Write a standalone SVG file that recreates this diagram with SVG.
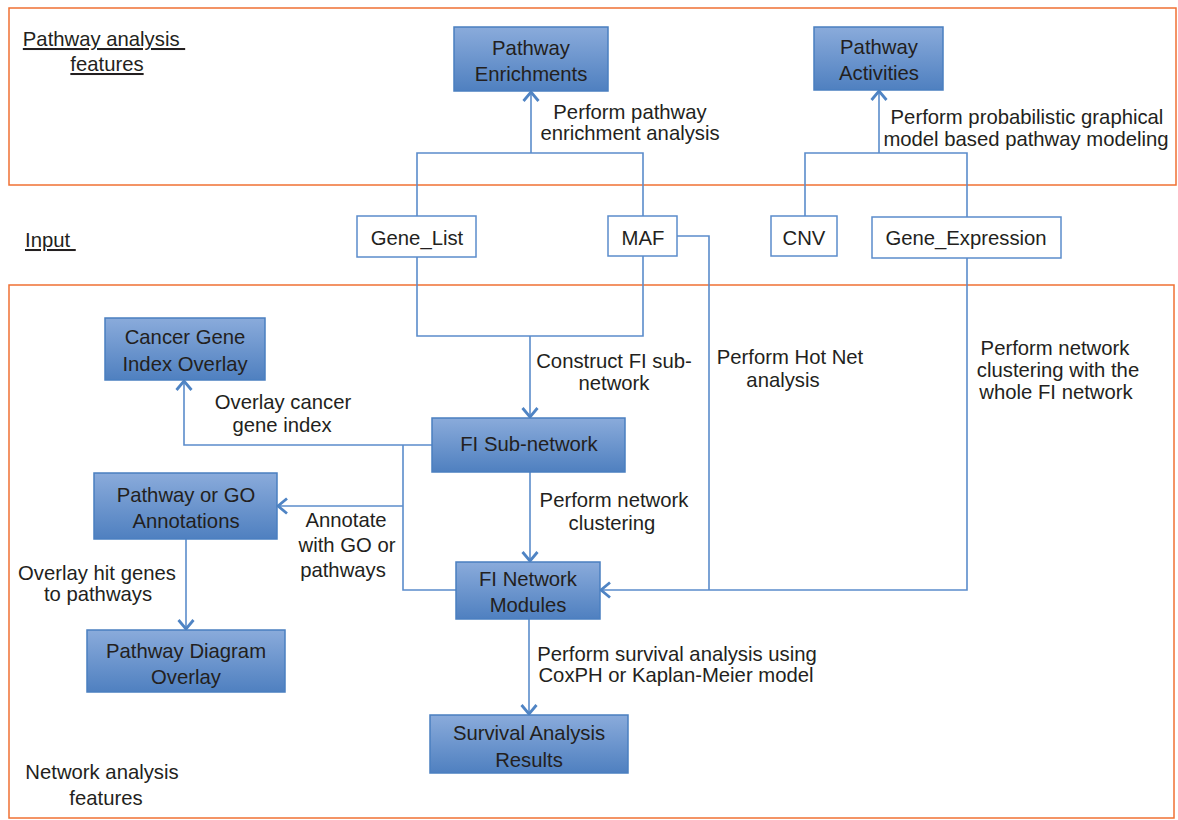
<svg xmlns="http://www.w3.org/2000/svg" width="1178" height="820" viewBox="0 0 1178 820">
<defs>
<linearGradient id="blue" x1="0" y1="0" x2="0" y2="1">
<stop offset="0" stop-color="#8aabdb"/>
<stop offset="1" stop-color="#4f80c0"/>
</linearGradient>
<marker id="arr" viewBox="0 0 11 18" refX="10" refY="9" markerWidth="11" markerHeight="18" markerUnits="userSpaceOnUse" orient="auto">
<path d="M1,1.5 L10,9 L1,16.5" fill="none" stroke="#4f84c4" stroke-width="2.8"/>
</marker>
</defs>
<style>
text{font-family:"Liberation Sans",Arial,sans-serif;font-size:20.3px;fill:#231f20}
.c{text-anchor:middle}
.panel{fill:none;stroke:#f07033;stroke-width:1.5}
.node rect{fill:url(#blue);stroke:#4a7fc0;stroke-width:1.5}
.input rect{fill:#fff;stroke:#5b8ccb;stroke-width:1.5}
.conn path{fill:none;stroke:#5b8ccb;stroke-width:1.6}
.u{text-decoration:underline}
</style>
<rect width="1178" height="820" fill="#fff"/>
<g id="panels">
<rect class="panel" x="9" y="8" width="1167" height="177"/>
<rect class="panel" x="9" y="285" width="1165" height="533"/>
<text class="c u" x="104" y="46" style="white-space:pre">Pathway analysis </text>
<text class="c u" x="107" y="71">features</text>
<text class="u" x="25" y="247" style="white-space:pre">Input </text>
<text class="c" x="102" y="779">Network analysis</text>
<text class="c" x="106" y="805">features</text>
</g>
<g class="conn" id="connectors">
<path d="M417,216 V153 H643 V216"/>
<path d="M531,153 V92" marker-end="url(#arr)"/>
<path d="M805,216 V153 H967 V217"/>
<path d="M879,153 V91" marker-end="url(#arr)"/>
<path d="M417,257 V336 H643 V256"/>
<path d="M530,336 V417" marker-end="url(#arr)"/>
<path d="M677,236 H709 V590"/>
<path d="M967,258 V590 H601" marker-end="url(#arr)"/>
<path d="M432,445 H184 V381" marker-end="url(#arr)"/>
<path d="M403,445 V590 H456"/>
<path d="M403,506 H278" marker-end="url(#arr)"/>
<path d="M530,472 V561" marker-end="url(#arr)"/>
<path d="M186,539 V629" marker-end="url(#arr)"/>
<path d="M529,619 V714" marker-end="url(#arr)"/>
</g>
<g id="labels">
<text class="c" x="630" y="119">Perform pathway</text>
<text class="c" x="630" y="140">enrichment analysis</text>
<text class="c" x="1027" y="124">Perform probabilistic graphical</text>
<text class="c" x="1026" y="146">model based pathway modeling</text>
<text class="c" x="614" y="368">Construct FI sub-</text>
<text class="c" x="614" y="390">network</text>
<text class="c" x="790" y="364">Perform Hot Net</text>
<text class="c" x="783" y="387">analysis</text>
<text class="c" x="1055" y="355">Perform network</text>
<text class="c" x="1058" y="377">clustering with the</text>
<text class="c" x="1056" y="399">whole FI network</text>
<text class="c" x="283" y="409">Overlay cancer</text>
<text class="c" x="282" y="432">gene index</text>
<text class="c" x="614" y="507">Perform network</text>
<text class="c" x="612" y="530">clustering</text>
<text class="c" x="346" y="527">Annotate</text>
<text class="c" x="347" y="552">with GO or</text>
<text class="c" x="343" y="577">pathways</text>
<text class="c" x="97" y="580">Overlay hit genes</text>
<text class="c" x="98" y="601">to pathways</text>
<text class="c" x="677" y="661">Perform survival analysis using</text>
<text class="c" x="676" y="682">CoxPH or Kaplan-Meier model</text>
</g>
<g class="node" id="pathway-enrichments">
<rect x="454" y="27" width="154" height="64"/>
<text class="c" x="531" y="55">Pathway</text>
<text class="c" x="531" y="81">Enrichments</text>
</g>
<g class="node" id="pathway-activities">
<rect x="814" y="27" width="129" height="63"/>
<text class="c" x="879" y="54">Pathway</text>
<text class="c" x="879" y="80">Activities</text>
</g>
<g class="input" id="gene-list">
<rect x="357" y="216" width="119" height="41"/>
<text class="c" x="417" y="245">Gene_List</text>
</g>
<g class="input" id="maf">
<rect x="608" y="216" width="69" height="40"/>
<text class="c" x="643" y="245">MAF</text>
</g>
<g class="input" id="cnv">
<rect x="771" y="216" width="66" height="40"/>
<text class="c" x="804" y="245">CNV</text>
</g>
<g class="input" id="gene-expression">
<rect x="872" y="217" width="189" height="41"/>
<text class="c" x="966" y="245">Gene_Expression</text>
</g>
<g class="node" id="cancer-gene-index-overlay">
<rect x="105" y="318" width="160" height="62"/>
<text class="c" x="185" y="344">Cancer Gene</text>
<text class="c" x="185" y="371">Index Overlay</text>
</g>
<g class="node" id="fi-subnetwork">
<rect x="432" y="418" width="193" height="54"/>
<text class="c" x="529" y="451">FI Sub-network</text>
</g>
<g class="node" id="pathway-go-annotations">
<rect x="94" y="473" width="183" height="66"/>
<text class="c" x="186" y="502">Pathway or GO</text>
<text class="c" x="186" y="528">Annotations</text>
</g>
<g class="node" id="fi-network-modules">
<rect x="456" y="562" width="144" height="57"/>
<text class="c" x="528" y="586">FI Network</text>
<text class="c" x="528" y="612">Modules</text>
</g>
<g class="node" id="pathway-diagram-overlay">
<rect x="87" y="630" width="198" height="62"/>
<text class="c" x="186" y="658">Pathway Diagram</text>
<text class="c" x="186" y="684">Overlay</text>
</g>
<g class="node" id="survival-analysis-results">
<rect x="430" y="715" width="198" height="58"/>
<text class="c" x="529" y="740">Survival Analysis</text>
<text class="c" x="529" y="767">Results</text>
</g>
</svg>
